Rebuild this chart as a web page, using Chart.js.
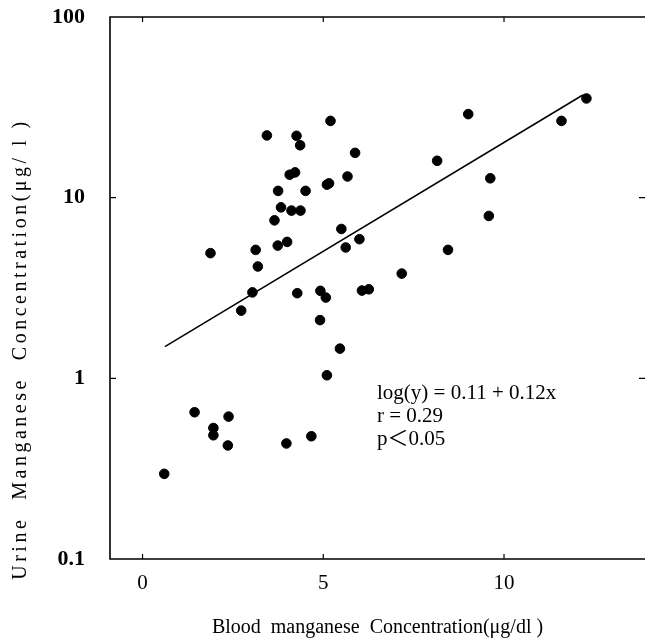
<!DOCTYPE html>
<html>
<head>
<meta charset="utf-8">
<script src="https://cdn.jsdelivr.net/npm/chart.js@4.4.1/dist/chart.umd.min.js"></script>
<style>
  html, body { margin: 0; padding: 0; background: #fff; overflow: hidden; }
  #wrap { width: 645px; height: 644px; }
</style>
</head>
<body>
<div id="wrap"><canvas id="mnChart"></canvas></div>
<script>
// 1. Data
const bloodMn = [12.28, 11.59, 9.01, 8.15, 9.62, 5.20, 3.44, 4.26, 4.36, 5.88,
                 4.07, 4.22, 5.67, 3.75, 4.51, 5.10, 5.16, 3.83, 4.12, 4.37,
                 3.65, 9.58, 5.50, 3.74, 4.00, 5.62, 6.00, 1.88, 3.13, 3.19,
                 8.45, 7.17, 3.04, 4.28, 4.92, 5.07, 6.07, 6.26, 2.73, 4.91,
                 5.46, 5.10, 1.44, 2.38, 1.96, 1.96, 2.36, 3.98, 4.67, 0.60];
const urineMn = [35.4, 26.6, 29.0, 16.0, 12.8, 26.6, 22.1, 22.0, 19.5, 17.7,
                 13.4, 13.8, 13.1, 10.9, 10.9, 11.8, 12.0, 8.84, 8.48, 8.48,
                 7.49, 7.92, 6.71, 5.43, 5.69, 5.30, 5.89, 4.93, 5.14, 4.16,
                 5.14, 3.80, 2.99, 2.96, 3.05, 2.80, 3.06, 3.11, 2.37, 2.10,
                 1.46, 1.04, 0.649, 0.614, 0.531, 0.484, 0.425, 0.436, 0.478, 0.296];

// regression line end points
const fitX = [0.62, 12.18];
const fitY = [1.5, 37];

const xTicks = [0, 5, 10];
const yTicks = [0.1, 1, 10, 100];

const fitNote = ['log(y) = 0.11 + 0.12x', 'r = 0.29', 'p\uFF1C0.05'];
const yTitle = 'Urine  Manganese  Concentration(\u03bcg/ l )';
const xTitle = 'Blood  manganese  Concentration(\u03bcg/dl )';

const serif = "'Liberation Serif', 'DejaVu Serif', 'Noto Sans CJK JP', serif";

// kill the automatic label padding so the plot box sits where we want it
function noPad(s) {
    s.paddingTop = 0; s.paddingBottom = 0;
    s.paddingLeft = 0; s.paddingRight = 0;
}

// 2. Frame, inward ticks, y title and the regression note
const framePlugin = {
    id: 'frame',
    afterDraw(chart) {
        const ctx = chart.ctx;
        const a = chart.chartArea;
        const xs = chart.scales.x;
        const ys = chart.scales.y;
        ctx.save();
        ctx.strokeStyle = '#000';
        ctx.lineWidth = 1.6;
        ctx.beginPath();
        ctx.moveTo(a.right + 2, a.top);
        ctx.lineTo(a.left, a.top);
        ctx.lineTo(a.left, a.bottom);
        ctx.lineTo(a.right + 2, a.bottom);
        ctx.stroke();

        ctx.lineWidth = 1.2;
        ctx.beginPath();
        xTicks.forEach(v => {
            const px = xs.getPixelForValue(v);
            ctx.moveTo(px, a.bottom); ctx.lineTo(px, a.bottom - 5);
            ctx.moveTo(px, a.top); ctx.lineTo(px, a.top + 5);
        });
        yTicks.slice(1, -1).forEach(v => {
            const py = ys.getPixelForValue(v);
            ctx.moveTo(a.left, py); ctx.lineTo(a.left + 6, py);
            ctx.moveTo(a.right, py); ctx.lineTo(a.right - 6, py);
        });
        ctx.stroke();

        ctx.fillStyle = '#000';
        ctx.font = '21px ' + serif;
        ctx.textAlign = 'left';
        ctx.textBaseline = 'middle';
        const tx = a.left + 267;
        fitNote.forEach((t, i) => ctx.fillText(t, tx, a.top + 376 + i * 23));

        // rotated y title, spaced out like the original
        ctx.translate(21, 349);
        ctx.rotate(-Math.PI / 2);
        ctx.font = '20px ' + serif;
        ctx.letterSpacing = '3.5px';
        ctx.textAlign = 'center';
        ctx.fillText(yTitle, 0, 0);
        ctx.restore();
    }
};

// 3. Chart
const ctx = document.getElementById('mnChart').getContext('2d');
new Chart(ctx, {
    type: 'scatter',
    data: {
        datasets: [{
            data: bloodMn.map((x, i) => ({ x: x, y: urineMn[i] })),
            backgroundColor: '#000',
            borderColor: '#000',
            pointRadius: 4.8,
            pointHoverRadius: 4.8
        }, {
            type: 'line',
            data: fitX.map((x, i) => ({ x: x, y: fitY[i] })),
            borderColor: '#000',
            borderWidth: 1.5,
            pointRadius: 0,
            fill: false
        }]
    },
    options: {
        responsive: true,
        maintainAspectRatio: false,
        animation: false,
        layout: { autoPadding: false, padding: { top: 17, right: 0, left: 0, bottom: 0 } },
        plugins: { legend: { display: false }, tooltip: { enabled: false } },
        scales: {
            x: {
                type: 'linear',
                min: -0.9,
                max: 13.9,
                afterBuildTicks: s => { s.ticks = xTicks.map(v => ({ value: v })); },
                afterFit: s => { s.height = 85; noPad(s); },
                grid: { display: false },
                border: { display: false },
                ticks: {
                    color: '#000',
                    padding: 4,
                    font: { family: serif, size: 21 }
                },
                title: {
                    display: true,
                    text: xTitle,
                    color: '#000',
                    font: { family: serif, size: 20 },
                    padding: { top: 10, bottom: 4 }
                }
            },
            y: {
                type: 'logarithmic',
                min: 0.1,
                max: 100,
                afterBuildTicks: s => { s.ticks = yTicks.map(v => ({ value: v })); },
                afterFit: s => { s.width = 110; noPad(s); },
                grid: { display: false },
                border: { display: false },
                ticks: {
                    color: '#000',
                    padding: 17,
                    font: { family: serif, size: 22, weight: 'bold' },
                    callback: v => String(v)
                }
            }
        }
    },
    plugins: [framePlugin]
});
</script>
</body>
</html>
